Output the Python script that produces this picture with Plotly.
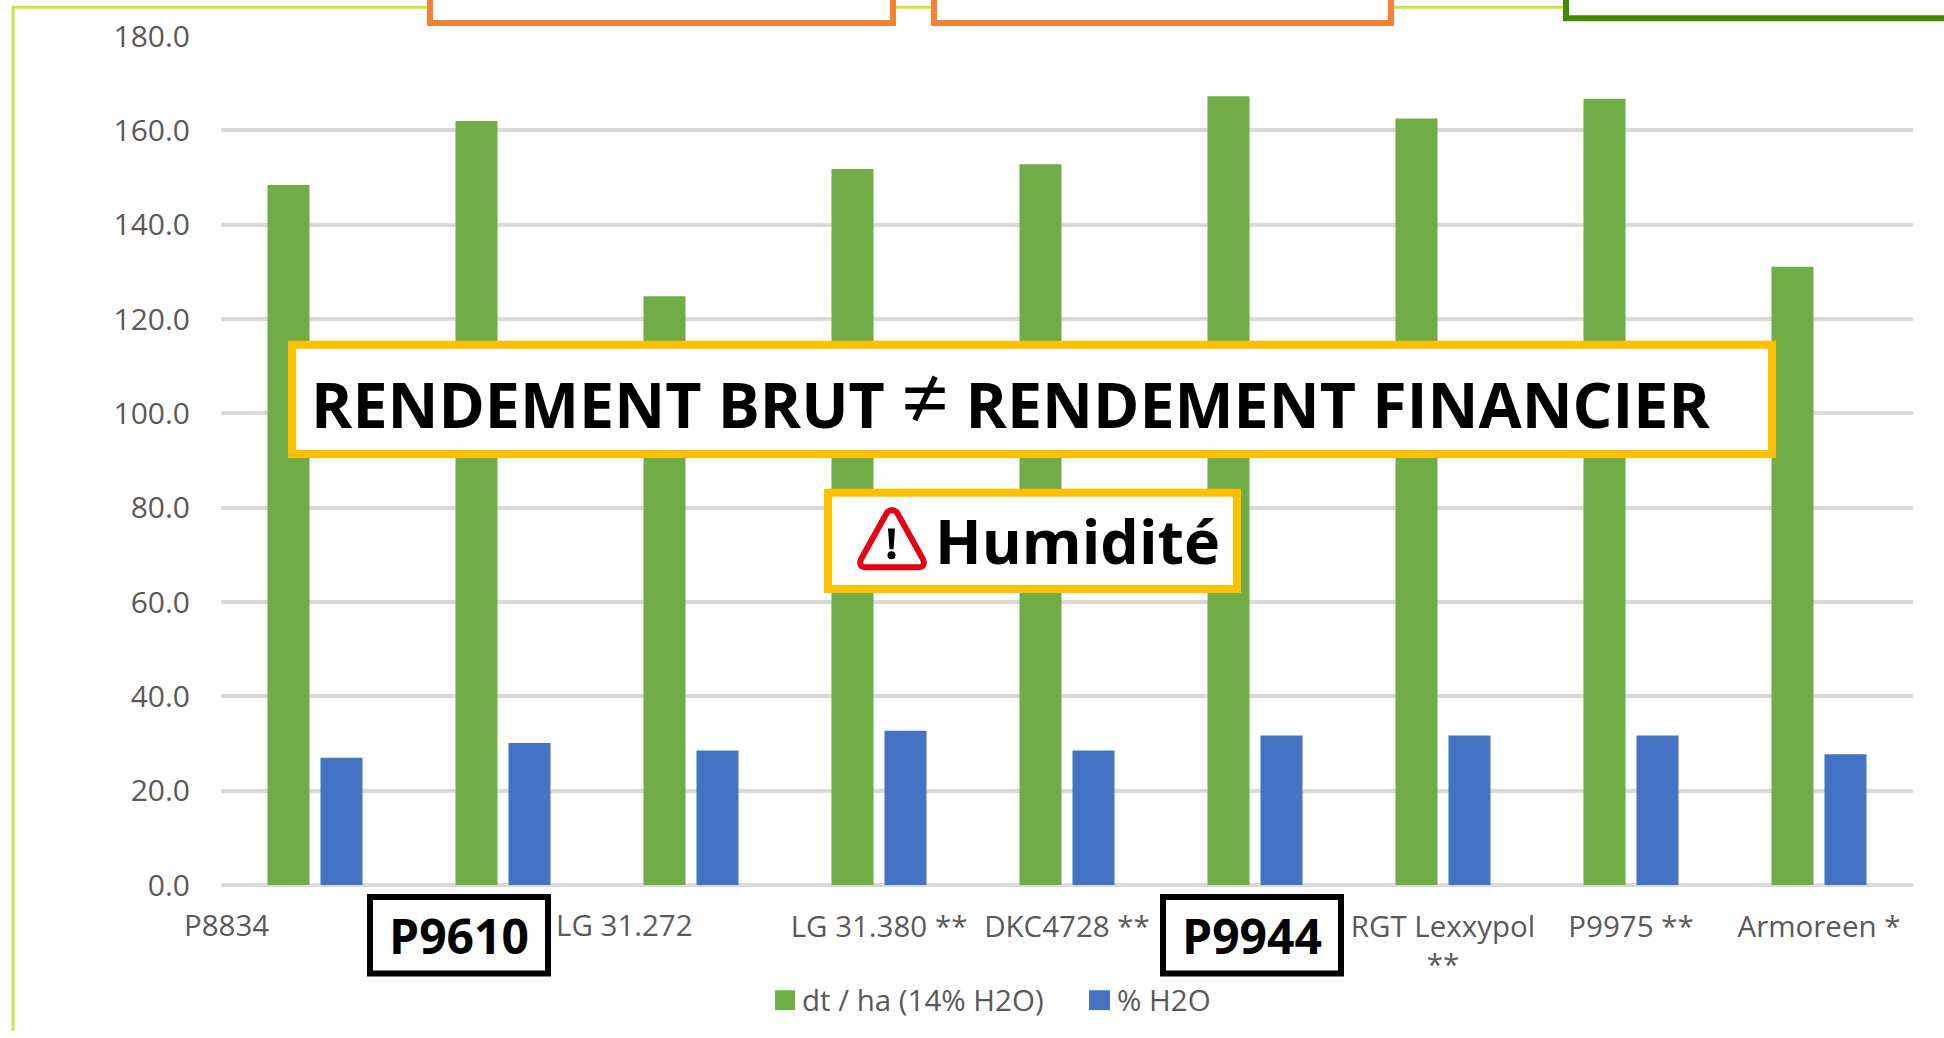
import plotly.graph_objects as go

W, H = 1944, 1038
PL, PR, PT, PB = 221, 1913, 36, 891

categories = ["P8834", "P9610", "LG 31.272", "LG 31.380 **", "DKC4728 **", "P9944", "RGT Lexxypol **", "P9975 **", "Armoreen *"]
tick_labels = ["", "", "", "LG 31.380 **", "DKC4728 **", "", "RGT Lexxypol<br>**", "P9975 **", "Armoreen *"]
yield_dt_ha = [148.4, 162.0, 124.8, 151.8, 152.8, 167.2, 162.5, 166.7, 131.1]
humidity = [27.0, 30.1, 28.5, 32.7, 28.5, 31.7, 31.7, 31.7, 27.7]
y_ticks = [0, 20, 40, 60, 80, 100, 120, 140, 160, 180]

GREY = "#595959"
FONT = "Open Sans"
CAT_SIZE = 29.5


def px(x):
    return (x - PL) / (PR - PL)


def py(y):
    return (PB - y) / (PB - PT)


def box(x0, y0, x1, y1, color, t, fill="white"):
    """Rectangle given by its outer edges in page pixels, border of thickness t."""
    return dict(type="rect", xref="paper", yref="paper", layer="above",
                x0=px(x0 + t / 2), x1=px(x1 - t / 2), y0=py(y1 - t / 2), y1=py(y0 + t / 2),
                line=dict(color=color, width=t), fillcolor=fill)


def label(text, x, y, size, color="black", bold=True):
    return dict(text=f"<b>{text}</b>" if bold else text, xref="paper", yref="paper",
                x=px(x), y=py(y), xanchor="center", yanchor="middle", showarrow=False,
                font=dict(family=FONT, size=size, color=color))


def pixel_path(points):
    out = []
    for cmd, *xy in points:
        coords = " ".join(f"{px(xy[i]):.5f},{py(xy[i + 1]):.5f}" for i in range(0, len(xy), 2))
        out.append(f"{cmd}{coords}")
    return " ".join(out) + " Z"


fig = go.Figure()
fig.add_bar(name="dt / ha (14% H2O)", x=categories, y=yield_dt_ha, marker_color="#70ad47", marker_line_width=0)
fig.add_bar(name="% H2O", x=categories, y=humidity, marker_color="#4472c4", marker_line_width=0)

triangle = pixel_path([("M", 887, 516), ("Q", 892, 511, 897, 516), ("L", 923, 563),
                       ("Q", 926, 571, 918, 571), ("L", 866, 571), ("Q", 858, 571, 861, 563)])
bang = pixel_path([("M", 888, 532), ("L", 895, 532), ("L", 893.5, 553), ("L", 889.5, 553)])

shapes = [
    dict(type="line", xref="paper", yref="paper", x0=px(13), x1=px(13), y0=py(6), y1=py(H), line=dict(color="#c9e545", width=3)),
    dict(type="line", xref="paper", yref="paper", x0=px(12), x1=px(1570), y0=py(7), y1=py(7), line=dict(color="#c9e545", width=3)),
    box(427, -20, 896, 26, "#f58233", 6),
    box(931, -20, 1394, 26, "#f58233", 6),
    box(1563, -20, 1990, 21, "#438a00", 6),
    box(367, 900, 551, 983, "black", 6),
    box(1160, 900, 1344, 983, "black", 6),
    box(288, 343, 1776, 461, "#ffc000", 8),
    box(824, 492, 1241, 597, "#ffc000", 8),
    dict(type="path", xref="paper", yref="paper", layer="above", path=triangle,
         line=dict(color="#e60012", width=6), fillcolor="white"),
    dict(type="path", xref="paper", yref="paper", layer="above", path=bang,
         line=dict(color="black", width=0), fillcolor="black"),
    dict(type="circle", xref="paper", yref="paper", layer="above", x0=px(887.5), x1=px(895.5), y0=py(563), y1=py(555),
         line=dict(color="black", width=0), fillcolor="black"),
    dict(type="rect", xref="paper", yref="paper", layer="above", x0=px(775), x1=px(795), y0=py(1017), y1=py(997),
         line=dict(width=0), fillcolor="#70ad47"),
    dict(type="rect", xref="paper", yref="paper", layer="above", x0=px(1089), x1=px(1110), y0=py(1017), y1=py(997),
         line=dict(width=0), fillcolor="#4472c4"),
]

annotations = [
    label('RENDEMENT BRUT <span style="font-size:84px;font-weight:normal">≠</span> RENDEMENT FINANCIER', 1010, 398, 62.7),
    label("Humidité", 1077, 544, 61),
    label("P9610", 459, 942, 48),
    label("P9944", 1252, 942, 48),
    dict(text="P8834", xref="x", yref="paper", x="P8834", xshift=-89, y=py(931), yanchor="middle", showarrow=False,
         font=dict(family=FONT, size=CAT_SIZE, color=GREY)),
    dict(text="LG 31.272", xref="x", yref="paper", x="LG 31.272", xshift=-67, y=py(931), yanchor="middle", showarrow=False,
         font=dict(family=FONT, size=CAT_SIZE, color=GREY)),
]

fig.update_layout(
    width=W, height=H, autosize=False,
    margin=dict(l=PL, r=W - PR, t=PT, b=H - PB, pad=0),
    paper_bgcolor="white", plot_bgcolor="white",
    barmode="group", bargap=0.436, bargroupgap=0.2075,
    font=dict(family=FONT, size=28, color=GREY),
    shapes=shapes, annotations=annotations,
    legend=dict(orientation="h", x=px(762), y=py(1007), xanchor="left", yanchor="middle",
                font=dict(family=FONT, size=29.5, color=GREY), bgcolor="rgba(0,0,0,0)",
                itemwidth=30, itemclick=False, entrywidth=270, entrywidthmode="pixels"),
)
fig.update_xaxes(type="category", categoryorder="array", categoryarray=categories, range=[-0.5, 8.5],
                 tickmode="array", tickvals=categories, ticktext=tick_labels, tickangle=0,
                 showgrid=False, showline=False, ticks="", ticklabelstandoff=21,
                 tickfont=dict(family=FONT, size=CAT_SIZE, color=GREY))
fig.update_yaxes(range=[0, 180], tickmode="array", tickvals=y_ticks,
                 ticktext=[f"{v:.1f}" for v in y_ticks],
                 showgrid=True, gridcolor="#d9d9d9", gridwidth=3.5, zeroline=True, zerolinecolor="#d9d9d9", zerolinewidth=4,
                 showline=False, ticks="", ticklabelstandoff=30,
                 tickfont=dict(family=FONT, size=30, color=GREY))

fig.write_html("out.html", config=dict(displayModeBar=False),
               post_script="document.body.style.margin='0';document.body.style.overflow='hidden';")
